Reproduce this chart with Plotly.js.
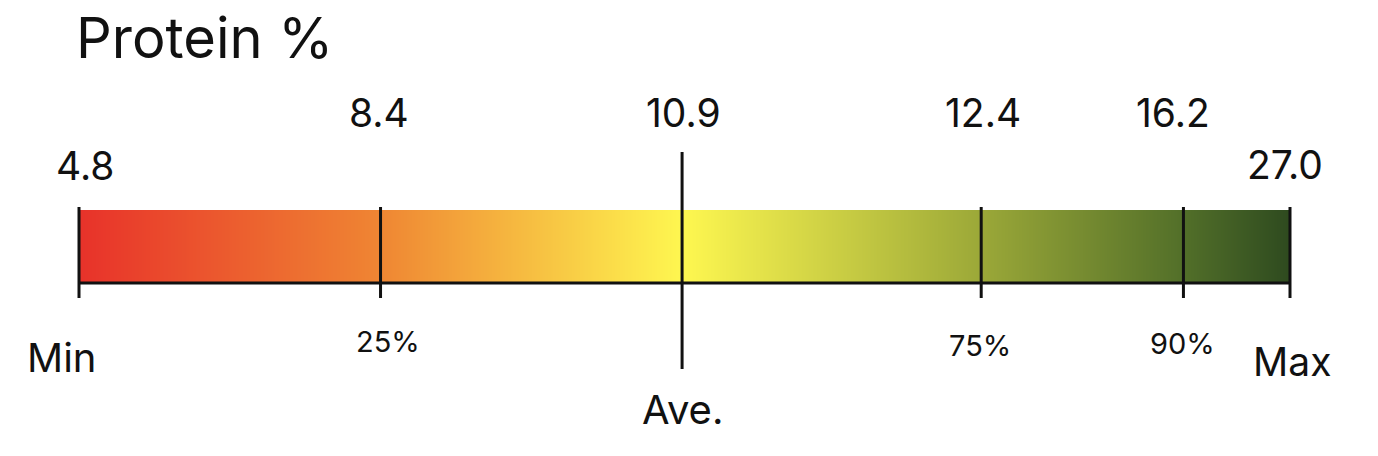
<!DOCTYPE html>
<html>
<head>
<meta charset="utf-8">
<script src="https://cdn.plot.ly/plotly-3.0.1.min.js"></script>
<style>
  html, body { margin: 0; padding: 0; background: #fff; }
  #chart { width: 1378px; height: 456px; }
</style>
</head>
<body>
<div id="chart"></div>
<script>
    // ── Data ─────────────────────────────────────────────────────────────────
    const stopNames  = ['Min', '25%', 'Ave.', '75%', '90%', 'Max'];
    const stopValues = ['4.8', '8.4', '10.9', '12.4', '16.2', '27.0'];
    // where each marker sits along the bar (0 = left end, 100 = right end)
    const stopPos    = [0, 24.9, 49.8, 74.5, 91.2, 100];
    const stopColors = ['#e8322a', '#ef8633', '#fef750', '#9ba838', '#526f29', '#2e4a1f'];

    // ── Layout helpers ───────────────────────────────────────────────────────
    const W = 1378, H = 456;
    const py = px => 1 - px / H;           // pixel row -> paper y
    const FONT = 'Inter, "Liberation Sans", Arial, sans-serif';
    const INK = '#111111';

    // value labels above, name labels below (vertical pixel centre, x nudge)
    const valueY   = [165, 113, 112, 112, 112, 164];
    const valueDx  = [6, -2, 1, 2, -10, -5];
    const nameY    = [357, 341, 409, 345, 343, 361];
    const nameDx   = [-18, 7, 0, -1, -1, 2];
    const nameSize = [40, 29, 40, 29, 29, 39];

    // ── Gradient bar ─────────────────────────────────────────────────────────
    const colorscale = stopPos.map((p, i) => [p / 100, stopColors[i]]);
    const bar = {
        type: 'heatmap',
        x: stopPos,
        y: [0, 1],
        z: [stopPos, stopPos],
        zmin: 0, zmax: 100,
        zsmooth: 'best',
        colorscale: colorscale,
        showscale: false,
        hoverinfo: 'skip'
    };

    // ── Marker lines (domain refs so the end lines are not clipped) ─────────
    const shapes = [{
        type: 'line', xref: 'x domain', yref: 'y domain',
        x0: 0, x1: 1, y0: 0, y1: 0,
        line: { color: INK, width: 3 }
    }];
    stopPos.forEach((p, i) => {
        const isAve = stopNames[i] === 'Ave.';
        shapes.push({
            type: 'line', xref: 'x domain', yref: 'paper',
            x0: p / 100, x1: p / 100,
            y0: py(isAve ? 369 : 298), y1: py(isAve ? 152 : 207),
            line: { color: INK, width: 3 }
        });
    });

    // ── Labels ───────────────────────────────────────────────────────────────
    const annotations = [];
    stopPos.forEach((p, i) => {
        annotations.push({
            xref: 'x', yref: 'paper', x: p, y: py(valueY[i]),
            xanchor: 'center', yanchor: 'middle', xshift: valueDx[i],
            text: stopValues[i], showarrow: false,
            font: { family: FONT, size: 39, color: INK }
        });
        annotations.push({
            xref: 'x', yref: 'paper', x: p, y: py(nameY[i]),
            xanchor: 'center', yanchor: 'middle', xshift: nameDx[i],
            text: stopNames[i], showarrow: false,
            font: { family: FONT, size: nameSize[i], color: INK }
        });
    });

    Plotly.newPlot('chart', [bar], {
        width: W, height: H,
        margin: { t: 0, r: 0, b: 0, l: 0 },
        title: {
            text: 'Protein %',
            xref: 'paper', yref: 'container',
            x: 76 / W, xanchor: 'left',
            y: py(38), yanchor: 'middle',
            font: { family: FONT, size: 56, color: INK }
        },
        xaxis: {
            domain: [79 / W, 1290 / W], range: [0, 100],
            visible: false, fixedrange: true
        },
        yaxis: {
            domain: [py(283), py(210)], range: [0, 1],
            visible: false, fixedrange: true
        },
        shapes: shapes,
        annotations: annotations,
        paper_bgcolor: '#ffffff',
        plot_bgcolor: '#ffffff',
        showlegend: false,
        font: { family: FONT }
    }, { displayModeBar: false, staticPlot: true });
</script>
</body>
</html>
